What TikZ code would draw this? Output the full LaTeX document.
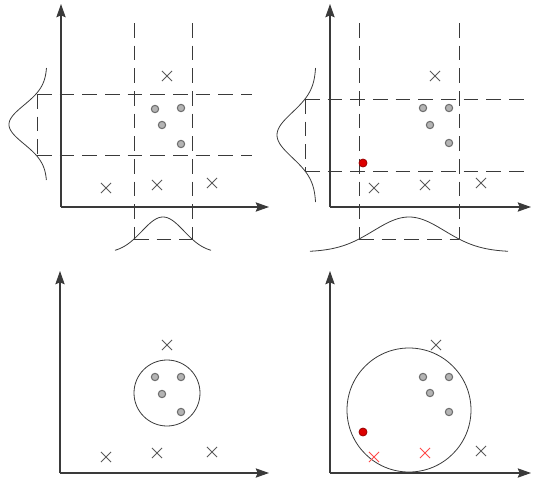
\documentclass[tikz,border=0pt]{standalone}
\usetikzlibrary{arrows.meta,shapes.misc}
\definecolor{ln}{HTML}{3A3A3A}
\definecolor{xc}{HTML}{5A5A5A}
\definecolor{ptfill}{HTML}{B4B4B4}
\definecolor{ptdraw}{HTML}{6E6E6E}
\definecolor{reddot}{HTML}{DD0000}
\definecolor{redx}{HTML}{FF4A4A}
\tikzset{
  axis/.style={draw=ln, line width=0.8pt, -{Stealth[length=10pt,width=7pt,inset=1.5pt]}},
  dashline/.style={draw=ln, line width=0.6pt, dash pattern=on 11pt off 6pt},
  gauss/.style={draw=ln, line width=0.6pt},
  xmark/.style={cross out, draw=xc, line width=0.6pt, minimum size=7pt, inner sep=0pt},
  redxmark/.style={xmark, draw=redx},
  pt/.style={circle, draw=ptdraw, fill=ptfill, line width=0.8pt, minimum size=5.5pt, inner sep=0pt},
  redpt/.style={circle, draw=reddot!70!black, fill=reddot, line width=0.6pt, minimum size=6pt, inner sep=0pt},
  ring/.style={draw=ln, line width=0.6pt}
}
\begin{document}
\begin{tikzpicture}[x=0.75pt,y=-0.75pt]
\useasboundingbox (0,0) rectangle (533,483);
% ---------- Panel 1 ----------
\coordinate (o1) at (61,207);
\coordinate (y1) at (61,4);
\coordinate (x1) at (269,207);
\draw[axis] (o1) -- (y1);
\draw[axis] (o1) -- (x1);
\coordinate (v1a) at (134,23); \coordinate (v1ab) at (134,239);
\coordinate (v1b) at (192,23); \coordinate (v1bb) at (192,239);
\draw[dashline] (v1a) -- (v1ab);
\draw[dashline] (v1b) -- (v1bb);
\coordinate (h1a) at (37,94); \coordinate (h1ae) at (252,94);
\coordinate (h1b) at (37,155); \coordinate (h1be) at (252,155);
\draw[dashline] (h1a) -- (h1ae);
\draw[dashline] (h1b) -- (h1be);
\draw[dashline] (h1a) -- (h1b);
\draw[dashline] (v1ab) -- (v1bb);
\draw[gauss] plot[domain=68:180, samples=80, smooth] ({47-38*exp(-((\x-124.5)*(\x-124.5))/750)}, \x);
\draw[gauss] plot[domain=115:211, samples=80, smooth] (\x, {253-36*exp(-((\x-163)*(\x-163))/890)});
\node[xmark] (c1a) at (167,76) {};
\node[xmark] (c1b) at (106,188) {};
\node[xmark] (c1c) at (157,185) {};
\node[xmark] (c1d) at (212,183) {};
\node[pt] (p1a) at (155,109) {};
\node[pt] (p1b) at (181,108) {};
\node[pt] (p1c) at (162,125) {};
\node[pt] (p1d) at (181,144) {};
% ---------- Panel 2 ----------
\coordinate (o2) at (330,207);
\coordinate (y2) at (330,4);
\coordinate (x2) at (531,207);
\draw[axis] (o2) -- (y2);
\draw[axis] (o2) -- (x2);
\coordinate (v2a) at (359,23); \coordinate (v2ab) at (359,239);
\coordinate (v2b) at (459,23); \coordinate (v2bb) at (459,239);
\draw[dashline] (v2a) -- (v2ab);
\draw[dashline] (v2b) -- (v2bb);
\coordinate (h2a) at (305,99); \coordinate (h2ae) at (524,99);
\coordinate (h2b) at (305,171); \coordinate (h2be) at (530,171);
\draw[dashline] (h2a) -- (h2ae);
\draw[dashline] (h2b) -- (h2be);
\draw[dashline] (h2a) -- (h2b);
\draw[dashline] (v2ab) -- (v2bb);
\draw[gauss] plot[domain=68:202, samples=90, smooth] ({316-39*exp(-((\x-135)*(\x-135))/1024)}, \x);
\draw[gauss] plot[domain=310:508, samples=90, smooth] (\x, {252-35*exp(-((\x-409)*(\x-409))/2524)});
\node[xmark] (c2a) at (435,76) {};
\node[xmark] (c2b) at (374,188) {};
\node[xmark] (c2c) at (425,185) {};
\node[xmark] (c2d) at (481,183) {};
\node[pt] (p2a) at (423,108) {};
\node[pt] (p2b) at (449,108) {};
\node[pt] (p2c) at (430,125) {};
\node[pt] (p2d) at (449,143) {};
\node[redpt] (r2) at (363,163) {};
% ---------- Panel 3 ----------
\coordinate (o3) at (60,473);
\coordinate (y3) at (60,271);
\coordinate (x3) at (269,473);
\draw[axis] (o3) -- (y3);
\draw[axis] (o3) -- (x3);
\node[ring, circle, minimum size=49.5pt, inner sep=0pt] (ring3) at (167,393) {};
\node[xmark] (c3a) at (167,345) {};
\node[xmark] (c3b) at (106,457) {};
\node[xmark] (c3c) at (157,453) {};
\node[xmark] (c3d) at (212,452) {};
\node[pt] (p3a) at (155,377) {};
\node[pt] (p3b) at (181,377) {};
\node[pt] (p3c) at (162,394) {};
\node[pt] (p3d) at (181,412) {};
% ---------- Panel 4 ----------
\coordinate (o4) at (330,473);
\coordinate (y4) at (330,271);
\coordinate (x4) at (531,473);
\draw[axis] (o4) -- (y4);
\draw[axis] (o4) -- (x4);
\node[ring, circle, minimum size=93pt, inner sep=0pt] (ring4) at (409,410) {};
\node[xmark] (c4a) at (436,345) {};
\node[xmark] (c4d) at (481,451) {};
\node[redxmark] (c4b) at (374,457) {};
\node[redxmark] (c4c) at (425,453) {};
\node[pt] (p4a) at (423,377) {};
\node[pt] (p4b) at (449,377) {};
\node[pt] (p4c) at (430,393) {};
\node[pt] (p4d) at (449,412) {};
\node[redpt] (r4) at (363,432) {};
\end{tikzpicture}
\end{document}
